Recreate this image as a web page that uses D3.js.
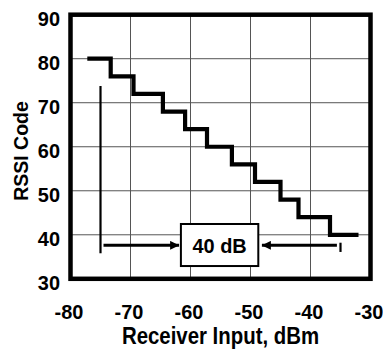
<!DOCTYPE html>
<html>
<head>
<meta charset="utf-8">
<script src="https://cdn.jsdelivr.net/npm/d3@7"></script>
<style>
  body { margin: 0; background: #fff; }
  text { font-family: "Liberation Sans", Arial, Helvetica, sans-serif; font-weight: bold; fill: #000; }
</style>
</head>
<body>
<div id="chart"></div>
<script>
// step edges (dBm) and RSSI code of each step
var stepEdges = [-77.2, -73.3, -69.5, -64.6, -60.9, -57.25, -53.1, -49.25, -45.0, -42.0, -36.75, -32.0];
var stepCodes = [80, 76, 72, 68, 64, 60, 56, 52, 48, 44, 40];

var xTicks = [-80, -70, -60, -50, -40, -30];
var yTicks = [30, 40, 50, 60, 70, 80, 90];

// 40 dB annotation
var rangeMarkers = [{ x: -75, y0: 73.8, y1: 35.8 }, { x: -35, y0: 38.2, y1: 36.1 }];
var arrows = [{ from: -74.5, to: -61.9, y: 37.6 }, { from: -35.6, to: -48.1, y: 37.6 }];
var boxX = [-61.6, -48.7];
var boxY = [42.45, 32.9];
var boxLabel = "40 dB";

var W = 383, H = 356;
var m = { left: 70.5, top: 14.7, right: 12.5, bottom: 77.2 };

var svg = d3.select("#chart").append("svg")
    .attr("width", W)
    .attr("height", H);

var x = d3.scaleLinear().domain([-80, -30]).range([m.left, W - m.right]);
var y = d3.scaleLinear().domain([30, 90]).range([H - m.bottom, m.top]);

var defs = svg.append("defs");
defs.append("marker")
    .attr("id", "head")
    .attr("viewBox", "0 0 10 10")
    .attr("refX", 10).attr("refY", 5)
    .attr("markerWidth", 3).attr("markerHeight", 3)
    .attr("markerUnits", "strokeWidth")
    .attr("orient", "auto")
  .append("path")
    .attr("d", "M0,0 L10,5 L0,10 Z")
    .attr("fill", "#000");

// grille
var grid = svg.append("g").attr("class", "grid");
grid.selectAll("line.v")
    .data(xTicks.slice(1, -1))
    .enter().append("line")
    .attr("class", "v")
    .attr("x1", d => x(d)).attr("x2", d => x(d))
    .attr("y1", y(90)).attr("y2", y(30))
    .attr("stroke", "#555").attr("stroke-width", 1);
grid.selectAll("line.h")
    .data(yTicks.slice(1, -1))
    .enter().append("line")
    .attr("class", "h")
    .attr("x1", x(-80)).attr("x2", x(-30))
    .attr("y1", d => y(d)).attr("y2", d => y(d))
    .attr("stroke", "#555").attr("stroke-width", 1);

// axes (tirets simples, pas le signe moins unicode)
var fmt = d => String(d);

var xAxis = svg.append("g")
    .attr("transform", "translate(0," + y(30) + ")")
    .call(d3.axisBottom(x).tickValues(xTicks).tickSize(0).tickFormat(fmt));
xAxis.select(".domain").remove();
xAxis.selectAll("text")
    .attr("y", null).attr("dy", null)
    .attr("transform", "translate(-2,40.2) scale(0.95,1)")
    .style("font-size", "21px");

var yAxis = svg.append("g")
    .attr("transform", "translate(" + x(-80) + ",0)")
    .call(d3.axisLeft(y).tickValues(yTicks).tickSize(0).tickFormat(fmt));
yAxis.select(".domain").remove();
yAxis.selectAll("text")
    .attr("x", null).attr("dy", null)
    .attr("transform", "translate(-10.5,10.5) scale(0.95,1)")
    .style("font-size", "21px");

// courbe en escalier
var pts = stepCodes.map((c, i) => [stepEdges[i], c]);
pts.push([stepEdges[stepEdges.length - 1], stepCodes[stepCodes.length - 1]]);
var line = d3.line()
    .x(d => x(d[0]))
    .y(d => y(d[1]))
    .curve(d3.curveStepAfter);
svg.append("path")
    .datum(pts)
    .attr("d", line)
    .attr("fill", "none")
    .attr("stroke", "#000")
    .attr("stroke-width", 4.2);

// annotation 40 dB
svg.selectAll("line.marker")
    .data(rangeMarkers)
    .enter().append("line")
    .attr("class", "marker")
    .attr("x1", d => x(d.x)).attr("x2", d => x(d.x))
    .attr("y1", d => y(d.y0)).attr("y2", d => y(d.y1))
    .attr("stroke", "#000").attr("stroke-width", 2.2);

svg.selectAll("line.arrow")
    .data(arrows)
    .enter().append("line")
    .attr("class", "arrow")
    .attr("x1", d => x(d.from)).attr("x2", d => x(d.to))
    .attr("y1", d => y(d.y)).attr("y2", d => y(d.y))
    .attr("stroke", "#000").attr("stroke-width", 3)
    .attr("marker-end", "url(#head)");

svg.append("rect")
    .attr("x", x(boxX[0])).attr("y", y(boxY[0]))
    .attr("width", x(boxX[1]) - x(boxX[0]))
    .attr("height", y(boxY[1]) - y(boxY[0]))
    .attr("fill", "#fff").attr("stroke", "#000").attr("stroke-width", 2);

svg.append("text")
    .attr("transform", "translate(" + (x(boxX[0]) + x(boxX[1])) / 2 + "," + ((y(boxY[0]) + y(boxY[1])) / 2 + 7.5) + ") scale(0.95,1)")
    .attr("text-anchor", "middle")
    .style("font-size", "21px")
    .text(boxLabel);

// cadre
svg.append("rect")
    .attr("x", x(-80)).attr("y", y(90))
    .attr("width", x(-30) - x(-80))
    .attr("height", y(30) - y(90))
    .attr("fill", "none").attr("stroke", "#000").attr("stroke-width", 4.5);

// titres
svg.append("text")
    .attr("transform", "translate(" + (x(-80) + x(-30)) / 2 + ",344) scale(0.85,1)")
    .attr("text-anchor", "middle")
    .style("font-size", "24px")
    .text("Receiver Input, dBm");

svg.append("text")
    .attr("transform", "translate(28.3,151) rotate(-90)")
    .attr("text-anchor", "middle")
    .style("font-size", "19.5px")
    .text("RSSI Code");
</script>
</body>
</html>
